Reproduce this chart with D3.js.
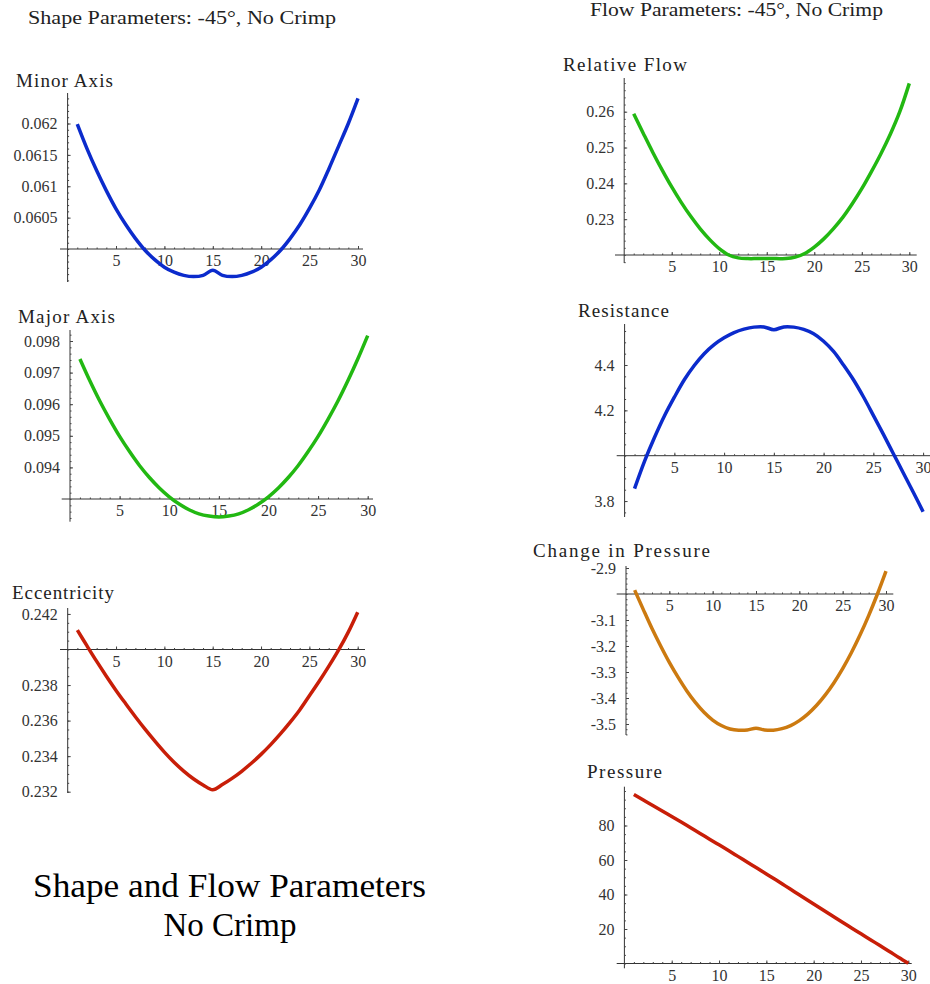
<!DOCTYPE html>
<html>
<head>
<meta charset="utf-8">
<script src="https://cdn.jsdelivr.net/npm/d3@7.9.0/dist/d3.min.js"></script>
<style>
  body { margin: 0; background: #fff; }
  svg { display: block; font-family: "Liberation Serif", "DejaVu Serif", serif; }
  svg text { font-family: "Liberation Serif", "DejaVu Serif", serif; }
  .tick text { fill: #333; font-size: 16px; font-family: "Liberation Serif", "DejaVu Serif", serif; }
  .tick line { stroke: #444; }
  .title { fill: #222; font-size: 19px; }
</style>
</head>
<body>
<svg id="chart" width="930" height="984"></svg>
<script>
// Shape and flow parameters along the vessel, -45 deg, no crimp

// positions along the segment
const positions = [1, 2, 3, 4, 5, 6, 7, 8, 9, 10, 11, 12, 13, 14, 15,
  16, 17, 18, 19, 20, 21, 22, 23, 24, 25, 26, 27, 28, 29, 30];
const xTicks = [5, 10, 15, 20, 25, 30];

// series values
const minorAxis = [0.06199, 0.06160, 0.06125, 0.06093, 0.06064, 0.06039, 0.06017, 0.05998,
  0.05983, 0.05971, 0.05963, 0.05958, 0.05956, 0.05958, 0.05966, 0.05958, 0.05956, 0.05958,
  0.05963, 0.05971, 0.05983, 0.05998, 0.06017, 0.06039, 0.06065, 0.06094, 0.06128, 0.06164,
  0.06200, 0.06240];
const majorAxis = [0.09743, 0.09674, 0.09610, 0.09552, 0.09498, 0.09450, 0.09406, 0.09368,
  0.09335, 0.09307, 0.09284, 0.09266, 0.09253, 0.09246, 0.09243, 0.09246, 0.09253, 0.09266,
  0.09284, 0.09307, 0.09335, 0.09368, 0.09406, 0.09450, 0.09498, 0.09552, 0.09610, 0.09674,
  0.09743, 0.09817];
const eccentricity = [0.24109, 0.24020, 0.23933, 0.23850, 0.23770, 0.23695, 0.23622, 0.23552,
  0.23486, 0.23423, 0.23366, 0.23316, 0.23273, 0.23238, 0.23211, 0.23240, 0.23275, 0.23315,
  0.23360, 0.23410, 0.23465, 0.23525, 0.23590, 0.23660, 0.23740, 0.23820, 0.23905, 0.23995,
  0.24095, 0.24210];
const relativeFlow = [0.2594, 0.2540, 0.2487, 0.2437, 0.2390, 0.2347, 0.2308, 0.2273, 0.2243,
  0.2218, 0.2200, 0.2192, 0.2190, 0.2190, 0.2190, 0.2190, 0.2190, 0.2194, 0.2204, 0.2222,
  0.2245, 0.2273, 0.2305, 0.2343, 0.2385, 0.2432, 0.2482, 0.2537, 0.2600, 0.2679];
const resistance = [3.855, 3.975, 4.080, 4.175, 4.258, 4.335, 4.398, 4.450, 4.490, 4.520,
  4.543, 4.558, 4.567, 4.568, 4.556, 4.568, 4.567, 4.557, 4.538, 4.505, 4.460, 4.400, 4.335,
  4.260, 4.178, 4.095, 4.010, 3.925, 3.840, 3.753];
const pressureChange = [-2.985, -3.060, -3.133, -3.200, -3.263, -3.320, -3.372, -3.417, -3.455,
  -3.485, -3.506, -3.519, -3.524, -3.523, -3.516, -3.523, -3.524, -3.518, -3.506, -3.487,
  -3.461, -3.428, -3.388, -3.341, -3.287, -3.226, -3.158, -3.083, -3.001, -2.912];
const pressure = [98.0, 94.8, 91.6, 88.4, 85.2, 82.0, 78.7, 75.4, 72.1, 68.8, 65.5, 62.1, 58.7,
  55.3, 51.9, 48.5, 45.0, 41.5, 38.0, 34.5, 31.0, 27.5, 24.0, 20.6, 17.2, 13.8, 10.4, 7.0,
  3.5, 0.2];

// y tick labels per panel
const minorTicks = [0.0605, 0.061, 0.0615, 0.062];
const majorTicks = [0.094, 0.095, 0.096, 0.097, 0.098];
const eccTicks = [0.232, 0.234, 0.236, 0.238, 0.242];
const flowTicks = [0.23, 0.24, 0.25, 0.26];
const resTicks = [3.8, 4.2, 4.4];
const dpTicks = [-3.5, -3.4, -3.3, -3.2, -3.1, -2.9];
const presTicks = [20, 40, 60, 80];

const svg = d3.select('#chart');

// layout of each small plot (pixels), plus where the axes cross
const panels = [
  { title: 'Minor Axis', tx: 16, ty: 87, tl: 97, values: minorAxis, ticks: minorTicks,
    color: '#0b2bcc', origin: 0.06, yDom: [0.06, 0.062], yRange: [249, 123.5],
    xRange: [67.6, 358], xLine: [60, 363], yLine: [93, 282] },
  { title: 'Major Axis', tx: 18, ty: 323, tl: 97, values: majorAxis, ticks: majorTicks,
    color: '#22b812', origin: 0.093, yDom: [0.093, 0.098], yRange: [499, 341],
    xRange: [70, 367.7], xLine: [61.7, 373], yLine: [330, 521.7] },
  { title: 'Eccentricity', tx: 12, ty: 599, tl: 102, values: eccentricity, ticks: eccTicks,
    color: '#c81e08', origin: 0.24, yDom: [0.232, 0.24], yRange: [791.7, 649.5],
    xRange: [67.7, 357.7], xLine: [60, 365], yLine: [608, 793] },
  { title: 'Relative  Flow', tx: 563, ty: 71, tl: 124, values: relativeFlow, ticks: flowTicks,
    color: '#22b812', origin: 0.22, yDom: [0.22, 0.26], yRange: [255, 111.7],
    xRange: [624.2, 909.3], xLine: [615, 916.7], yLine: [78, 263] },
  { title: 'Resistance', tx: 578, ty: 317, tl: 91, values: resistance, ticks: resTicks,
    color: '#0b2bcc', origin: 4.0, yDom: [4.0, 4.4], yRange: [455.7, 365],
    xRange: [624.6, 923.1], xLine: [616.7, 930], yLine: [324, 517] },
  { title: 'Change in  Pressure', tx: 533, ty: 557, tl: 177, values: pressureChange, ticks: dpTicks,
    color: '#cc7a10', origin: -3.0, yDom: [-3.5, -3.0], yRange: [724, 594],
    xRange: [626, 886], xLine: [616.7, 893.3], yLine: [566, 735] },
  { title: 'Pressure', tx: 587, ty: 778, tl: 75, values: pressure, ticks: presTicks,
    color: '#c81e08', origin: 0, yDom: [0, 80], yRange: [963.5, 825.5],
    xRange: [624.4, 908.3], xLine: [616.7, 911.7], yLine: [786.7, 968.3] }
];

// strip the default axis font so the page font is used
function plain(a) {
  a.select('.domain').remove();
  a.attr('font-family', null).attr('font-size', null);
  a.selectAll('text').attr('font-family', null).attr('font-size', null);
}

panels.forEach((p) => {
  let x = d3.scaleLinear().domain([0, 30]).range(p.xRange);
  let y = d3.scaleLinear().domain(p.yDom).range(p.yRange);
  let g = svg.append('g');

  // axis lines
  g.append('line')
    .attr('x1', p.xLine[0]).attr('x2', p.xLine[1])
    .attr('y1', y(p.origin)).attr('y2', y(p.origin))
    .attr('stroke', '#333').attr('stroke-width', 1);
  g.append('line')
    .attr('x1', x(0)).attr('x2', x(0))
    .attr('y1', p.yLine[0]).attr('y2', p.yLine[1])
    .attr('stroke', '#333').attr('stroke-width', 1);

  // minor ticks
  g.append('g')
    .attr('transform', `translate(0,${y(p.origin)})`)
    .call(d3.axisBottom(x).tickValues(positions).tickSize(-1.5).tickFormat(''))
    .call(plain);
  let yMin = y.invert(p.yLine[1]);
  let yMax = y.invert(p.yLine[0]);
  let yMinor = d3.scaleLinear().domain([yMin, yMax]).ticks(25);
  g.append('g')
    .attr('transform', `translate(${x(0)},0)`)
    .call(d3.axisLeft(y).tickValues(yMinor).tickSize(-1.5).tickFormat(''))
    .call(plain);

  // major ticks with labels
  g.append('g')
    .attr('transform', `translate(0,${y(p.origin)})`)
    .call(d3.axisBottom(x).tickValues(xTicks).tickSize(-3).tickPadding(6).tickFormat((d) => String(d)))
    .call(plain);
  g.append('g')
    .attr('transform', `translate(${x(0)},0)`)
    .call(d3.axisLeft(y).tickValues(p.ticks).tickSize(-3).tickPadding(10).tickFormat((d) => String(d)))
    .call(plain);

  // curve
  let line = d3.line()
    .x((d, i) => x(positions[i]))
    .y((d) => y(d))
    .curve(d3.curveCatmullRom.alpha(0.5));
  g.append('path')
    .attr('d', line(p.values))
    .attr('fill', 'none')
    .attr('stroke', p.color)
    .attr('stroke-width', 3.5)
    .attr('stroke-linejoin', 'round');

  g.append('text')
    .attr('class', 'title')
    .attr('x', p.tx).attr('y', p.ty)
    .attr('textLength', p.tl)
    .attr('lengthAdjust', 'spacing')
    .text(p.title);
});

// headings
svg.append('text').attr('x', 28).attr('y', 24)
  .attr('font-size', 18).attr('fill', '#222')
  .attr('textLength', 308).attr('lengthAdjust', 'spacingAndGlyphs')
  .text('Shape Parameters: -45°, No Crimp');
svg.append('text').attr('x', 590).attr('y', 16)
  .attr('font-size', 18).attr('fill', '#222')
  .attr('textLength', 293).attr('lengthAdjust', 'spacingAndGlyphs')
  .text('Flow Parameters: -45°, No Crimp');

svg.append('text').attr('x', 33).attr('y', 897)
  .attr('font-size', 33).attr('fill', '#000')
  .attr('textLength', 393).attr('lengthAdjust', 'spacingAndGlyphs')
  .text('Shape and Flow Parameters');
svg.append('text').attr('x', 230).attr('y', 936)
  .attr('text-anchor', 'middle').attr('font-size', 33).attr('fill', '#000')
  .text('No Crimp');
</script>
</body>
</html>
